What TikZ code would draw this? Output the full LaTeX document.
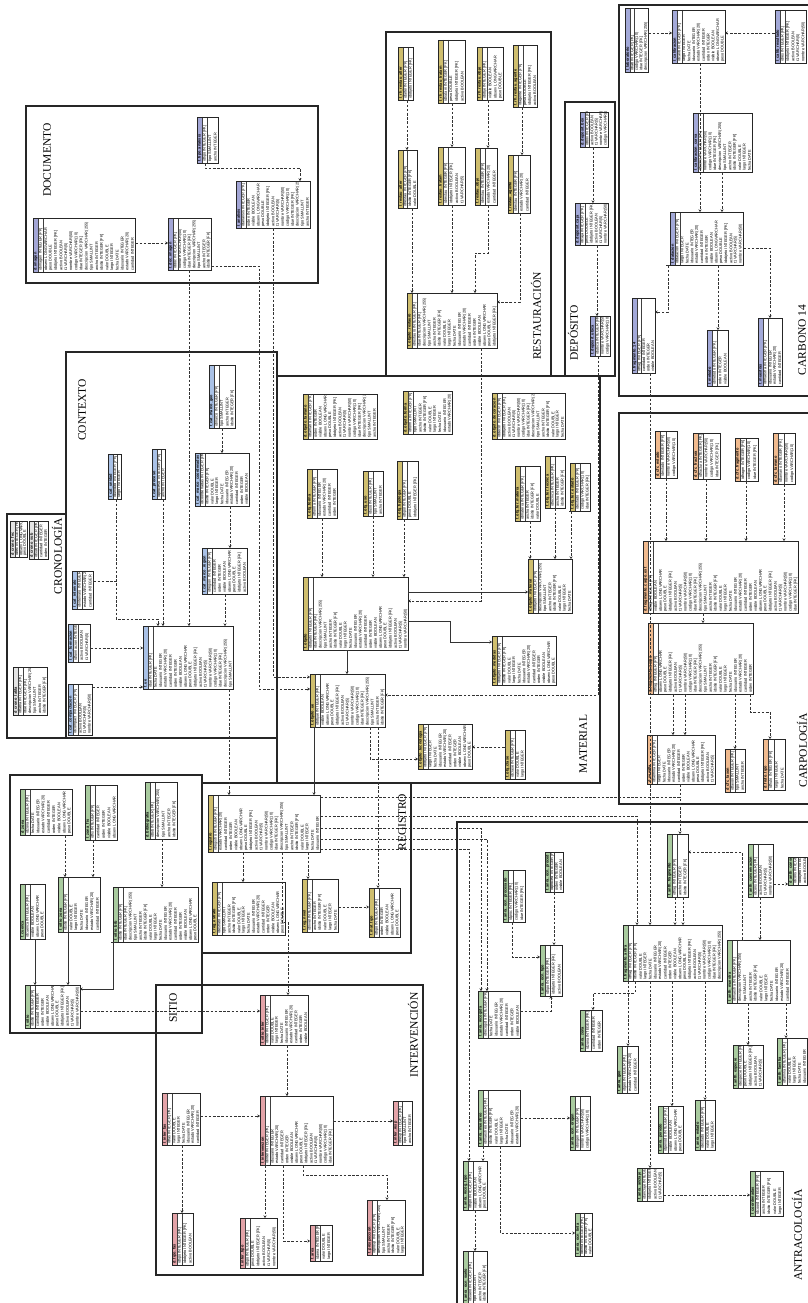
\documentclass[tikz,border=0pt]{standalone}
\usepackage{fontspec}
\setmainfont{Liberation Serif}
\setsansfont{Liberation Sans}
\usetikzlibrary{arrows.meta}
\definecolor{cdoc}{HTML}{A3A6D6}
\definecolor{ccon}{HTML}{A9C1E6}
\definecolor{ccro}{HTML}{E4E4E4}
\definecolor{cmat}{HTML}{CFBE6E}
\definecolor{csit}{HTML}{A9CB9F}
\definecolor{cint}{HTML}{E3A3A8}
\definecolor{ccar}{HTML}{F0BA8E}
\definecolor{cc14}{HTML}{A3A9D8}
\newcommand\ttf{\sffamily\fontsize{3.9}{4.5}\selectfont}
\newcommand\poolrow[1]{\ifcase#1 nombre VARCHAR(50)\or descripcion VARCHAR(255)\or idsitio INTEGER [FK]\or fecha DATE\or cantidad INTEGER\or observ LONGVARCHAR\or activo BOOLEAN\or codigo VARCHAR(10)\or tipo SMALLINT\or valor DOUBLE\or idusuario INTEGER\or orden INTEGER\or peso DOUBLE\or t1 VARCHAR(5)\or idue INTEGER [FK]\or ancho INTEGER\or largo INTEGER\or estado VARCHAR(20)\or visible BOOLEAN\else idobjeto INTEGER [FK]\fi}
\tikzset{
 tbox/.style={fill=white, inner sep=0pt, outer sep=0pt, anchor=north west},
 ttxt/.style={rotate=90, anchor=west, inner sep=0pt, font=\ttf},
 tsep/.style={draw=black!75, line width=0.35pt},
 tborder/.style={draw=black!85, line width=0.5pt},
 grp/.style={draw=black!85, line width=1.1pt},
 ttl/.style={rotate=90, font=\fontsize{11.5}{13}\selectfont, inner sep=0pt},
 rel/.style={draw=black!80, line width=0.5pt, dash pattern=on 2.6pt off 1.6pt, {Bar[width=3.2pt]}-{Stealth[length=2.6pt,width=3.2pt]}},
 relS/.style={draw=black!80, line width=0.5pt, {Bar[width=3.2pt]}-{Stealth[length=2.6pt,width=3.2pt]}},
 relJ/.style={draw=black!80, line width=0.5pt, dash pattern=on 2.6pt off 1.6pt, {Bar[width=3.2pt]}-},
}
\newcommand{\tb}[9]{%
 \pgfmathsetmacro\tbp{(#4-#2-5)/#7}%
 \node[tbox, minimum width={(#4-#2)*1pt}, minimum height={(#5-#3)*1pt}] (#1) at (#2,#3) {};%
 \begin{scope}%
  \clip (#2,#3) rectangle (#4,#5);%
  \fill[#6] (#2,#3) rectangle (#2+5,#5);%
  \node[ttxt, font=\ttf\bfseries] at (#2+2.6,#5-1) {#8};%
  \node[ttxt] at (#2+5+0.5*\tbp,#5-1) {#9};%
  \foreach \i in {2,...,#7}{%
   \pgfmathtruncatemacro\tbk{mod(\i*7+#2+#3,20)}%
   \node[ttxt] at (#2+5+\i*\tbp-0.5*\tbp,#5-1) {\poolrow{\tbk}};}%
 \end{scope}%
 \draw[tsep] (#2+5,#3) -- (#2+5,#5);%
 \draw[tsep] (#2+5+\tbp,#3) -- (#2+5+\tbp,#5);%
 \draw[tborder] (#2,#3) rectangle (#4,#5);%
}
\begin{document}
\begin{tikzpicture}[x=1pt,y=-1pt]
\useasboundingbox[fill=white] (0,0) rectangle (808,1303);
% ---------- group frames
\draw[grp] (26,106) rectangle (318,283);
\draw[grp] (386,32) rectangle (551,376);
\draw[grp] (565,102) rectangle (615,376);
\draw[grp] (619,5) rectangle (815,396);
\draw[grp] (619,413) rectangle (815,804);
\draw[grp] (66,352) rectangle (277,738);
\draw[grp] (7,514) rectangle (66,738);
\draw[grp] (277,376) rectangle (600,783);
\draw[grp] (202,783) rectangle (411,953);
\draw[grp] (10,775) rectangle (202,1033);
\draw[grp] (156,985) rectangle (423,1275);
\draw[grp] (457,822) rectangle (815,1310);
% ---------- tables
% DOCUMENTO
\tb{dimg}{33}{218}{135}{272}{cdoc}{19}{d\_imagen}{idimagen INTEGER [PK]}
\tb{ddoc}{168}{218}{211}{270}{cdoc}{8}{t\_doc\_imagen}{iddoc INTEGER [PK]}
\tb{dtip}{197}{117}{218}{163}{cdoc}{3}{t\_tipo\_analisis}{idtipo INTEGER [PK]}
\tb{dana}{236}{181}{310}{228}{cdoc}{14}{t\_analisis}{idanalisis INTEGER [PK]}
% CONTEXTO
\tb{cx1}{72}{571}{93}{609}{ccon}{3}{t\_cat\_intervalo}{idintervalo INTEGER [PK]}
\tb{cx2}{108}{454}{121}{499}{ccon}{2}{t\_cat\_unidad}{idunidad INTEGER [PK]}
\tb{cx3}{152}{449}{165}{499}{ccon}{2}{t\_cat\_proceso}{idproceso INTEGER [PK]}
\tb{cx4}{209}{365}{235}{428}{ccon}{4}{t\_cat\_marco\_geo}{idmarco INTEGER [PK]}
\tb{cx5}{195}{453}{249}{506}{ccon}{10}{t\_cat\_marco\_coordenadas}{idcoordenadas INTEGER [PK]}
\tb{cx6}{202}{548}{247}{594}{ccon}{8}{t\_cat\_marco\_region}{idregion INTEGER [PK]}
\tb{cx7}{68}{624}{90}{662}{ccon}{3}{t\_cat\_formacion}{idformacion INTEGER [PK]}
\tb{cx8}{68}{684}{92}{735}{ccon}{4}{t\_cat\_compactacion}{idcompact INTEGER [PK]}
\tb{tue}{143}{626}{233}{689}{ccon}{17}{t\_ue}{idue INTEGER [PK]}
% CRONOLOGIA
\tb{cr1}{10}{521}{27}{557}{ccro}{3}{d\_crono\_fec}{idfec INTEGER [PK]}
\tb{cr2}{29}{521}{48}{559}{ccro}{3}{d\_crono\_sub}{idsub INTEGER [PK]}
\tb{cr3}{13}{667}{47}{715}{ccro}{6}{d\_crono\_tabla}{idtabla INTEGER [PK]}
% RESTAURACION
\tb{r1}{398}{47}{413}{100}{cmat}{2}{t\_rh\_restau\_alter}{idalter INTEGER [PK]}
\tb{r2}{438}{40}{465}{103}{cmat}{4}{t\_rh\_restau\_tratam}{idtratam INTEGER [PK]}
\tb{r3}{477}{47}{503}{100}{cmat}{4}{t\_rh\_restau\_obje}{idobje INTEGER [PK]}
\tb{r4}{513}{45}{537}{107}{cmat}{4}{t\_rh\_restau\_agente}{idagente INTEGER [PK]}
\tb{r5}{398}{150}{417}{208}{cmat}{3}{t\_restau\_alter}{idrestau INTEGER [PK]}
\tb{r6}{438}{147}{465}{205}{cmat}{4}{t\_restau\_tratam}{idrestau INTEGER [PK]}
\tb{r7}{475}{148}{497}{205}{cmat}{3}{t\_restau\_obje}{idrestau INTEGER [PK]}
\tb{r8}{508}{155}{530}{213}{cmat}{3}{t\_restau\_agente}{idrestau INTEGER [PK]}
\tb{rmain}{407}{293}{497}{348}{cmat}{17}{t\_objeto\_restauro}{idrestauro INTEGER [PK]}
% DEPOSITO
\tb{d1}{580}{112}{608}{147}{cc14}{5}{d\_deposit\_box}{idbox INTEGER [PK]}
\tb{d2}{575}{203}{608}{245}{cc14}{6}{d\_deposit\_caja}{idcaja INTEGER [PK]}
\tb{d3}{590}{316}{610}{356}{cc14}{3}{t\_deposit\_ubica}{idubica INTEGER [PK]}
% CARBONO 14
\tb{ca}{625}{8}{648}{72}{cc14}{4}{t\_laboratorio}{idlab INTEGER [PK]}
\tb{cb}{672}{10}{725}{63}{cc14}{10}{t\_calibracion}{idcalib INTEGER [PK]}
\tb{cc}{775}{10}{806}{63}{cc14}{5}{t\_calib\_resultado}{idres INTEGER [PK]}
\tb{cd}{693}{113}{752}{172}{cc14}{11}{t\_calibracion\_curva}{idcurva INTEGER [PK]}
\tb{ce}{670}{212}{743}{265}{cc14}{14}{t\_datacion}{iddatacion INTEGER [PK]}
\tb{cf}{632}{298}{655}{373}{cc14}{4}{t\_fragmento\_14}{idfrag INTEGER [PK]}
\tb{cg}{707}{330}{728}{386}{cc14}{3}{t\_metodo}{idmetodo INTEGER [PK]}
\tb{ch}{758}{318}{782}{386}{cc14}{4}{t\_muestras}{idmuestra INTEGER [PK]}
% CARPOLOGIA
\tb{cp1}{655}{431}{677}{478}{ccar}{3}{d\_cfc\_estado}{idestado INTEGER [PK]}
\tb{cp2}{693}{433}{720}{479}{ccar}{4}{d\_cfc\_fractura}{idfractura INTEGER [PK]}
\tb{cp3}{735}{438}{758}{481}{ccar}{3}{d\_cfc\_fragmento}{idfragm INTEGER [PK]}
\tb{cp4}{773}{433}{795}{484}{ccar}{3}{d\_cfc\_tamano}{idtamano INTEGER [PK]}
\tb{cpm}{643}{541}{798}{613}{ccar}{30}{d\_fragmento\_carpo\_ext}{idfrag INTEGER [PK]}
\tb{cp6}{648}{623}{753}{694}{ccar}{20}{d\_fragmento\_carpo}{idfrag INTEGER [PK]}
\tb{cp7}{647}{735}{715}{784}{ccar}{13}{d\_semilla}{idsemilla INTEGER [PK]}
\tb{cp8}{725}{749}{745}{792}{ccar}{3}{d\_cfc\_taxon}{idtaxon INTEGER [PK]}
\tb{cp9}{763}{739}{785}{790}{ccar}{3}{d\_fruto\_tipo}{idfruto INTEGER [PK]}
% MATERIAL
\tb{mobj}{303}{577}{408}{650}{cmat}{20}{t\_objeto}{idobjeto INTEGER [PK]}
\tb{mlow}{310}{674}{385}{727}{cmat}{14}{t\_objeto\_ue}{idobjue INTEGER [PK]}
\tb{m1}{303}{394}{377}{439}{cmat}{14}{d\_objeto\_tamano}{idtamano INTEGER [PK]}
\tb{m2}{403}{391}{452}{434}{cmat}{9}{d\_objeto\_forma}{idforma INTEGER [PK]}
\tb{m3}{492}{393}{565}{439}{cmat}{14}{d\_objeto\_decoracion}{iddecor INTEGER [PK]}
\tb{m4}{307}{469}{337}{518}{cmat}{5}{t\_obj\_forma}{idforma INTEGER [PK]}
\tb{m5}{363}{471}{383}{516}{cmat}{3}{t\_obj\_uso}{iduso INTEGER [PK]}
\tb{m6}{397}{461}{418}{519}{cmat}{3}{t\_obj\_tipologia}{idtipol INTEGER [PK]}
\tb{m7}{515}{466}{540}{521}{cmat}{4}{t\_obj\_ter\_materia}{idmateria INTEGER [PK]}
\tb{m8}{545}{456}{565}{508}{cmat}{3}{t\_obj\_ter\_tecnica}{idtecnica INTEGER [PK]}
\tb{m9}{570}{463}{590}{511}{cmat}{3}{t\_obj\_ter\_estado}{idestado INTEGER [PK]}
\tb{m10}{528}{559}{572}{613}{cmat}{8}{t\_objeto\_material}{idobjeto INTEGER [PK]}
\tb{m11}{492}{636}{556}{685}{cmat}{12}{t\_objeto\_medidas}{idobjeto INTEGER [PK]}
\tb{m12}{418}{724}{472}{769}{cmat}{10}{t\_objeto\_tecnologia}{idobjeto INTEGER [PK]}
\tb{m13}{505}{730}{525}{779}{cmat}{3}{t\_obj\_clase}{idclase INTEGER [PK]}
% REGISTRO
\tb{rg}{208}{795}{320}{852}{cmat}{21}{t\_registro}{idregistro INTEGER [PK]}
\tb{rg2}{212}{882}{285}{935}{cmat}{14}{t\_reg\_estrato}{idestrato INTEGER [PK]}
\tb{rg3}{302}{879}{338}{932}{cmat}{6}{t\_reg\_nivel}{idnivel INTEGER [PK]}
\tb{rg4}{369}{888}{400}{937}{cmat}{5}{t\_mat\_tipo}{idtipo INTEGER [PK]}
% SITIO
\tb{s1}{20}{789}{72}{835}{csit}{9}{d\_zona}{idzona INTEGER [PK]}
\tb{s2}{85}{785}{117}{840}{csit}{5}{t\_zona\_fis}{idfis INTEGER [PK]}
\tb{s3}{145}{782}{177}{839}{csit}{5}{d\_bibliografia}{idbib INTEGER [PK]}
\tb{s4}{20}{884}{45}{939}{csit}{4}{t\_cuenca}{idcuenca INTEGER [PK]}
\tb{s5}{58}{877}{100}{932}{csit}{7}{t\_sitio\_zona}{idsitio INTEGER [PK]}
\tb{s6}{113}{887}{198}{942}{csit}{16}{t\_sitio\_bib}{idsitio INTEGER [PK]}
\tb{smain}{25}{985}{80}{1028}{csit}{10}{t\_sitio}{idsitio INTEGER [PK]}
% INTERVENCION
\tb{i1}{260}{995}{308}{1045}{cint}{9}{t\_sitio\_inter}{idinter INTEGER [PK]}
\tb{ia}{162}{1093}{200}{1145}{cint}{7}{t\_inter\_fas}{idfas INTEGER [PK]}
\tb{imain}{260}{1096}{333}{1165}{cint}{14}{t\_intervencion}{idinter INTEGER [PK]}
\tb{ib}{172}{1213}{193}{1265}{cint}{3}{d\_tipo\_fas}{idtipo INTEGER [PK]}
\tb{idt}{240}{1218}{277}{1268}{cint}{6}{t\_inter\_tipo}{idtipo INTEGER [PK]}
\tb{ie}{310}{1225}{332}{1261}{cint}{3}{t\_area}{idarea INTEGER [PK]}
\tb{iff}{367}{1200}{405}{1255}{cint}{7}{t\_prospeccion}{idprosp INTEGER [PK]}
\tb{ig}{393}{1101}{412}{1145}{cint}{3}{t\_inter\_resp}{idresp INTEGER [PK]}
% ANTRACOLOGIA
\tb{a1}{503}{870}{525}{922}{csit}{3}{t\_anra\_ocn\_procesado}{idproc INTEGER [PK]}
\tb{a2}{545}{852}{563}{892}{csit}{3}{t\_anra\_ocn\_proced}{idproced INTEGER [PK]}
\tb{a3}{667}{834}{688}{897}{csit}{3}{t\_anth\_fragmento}{idfrag INTEGER [PK]}
\tb{a4}{748}{844}{773}{897}{csit}{4}{t\_anth\_conservacion}{idcons INTEGER [PK]}
\tb{a5}{788}{857}{807}{885}{csit}{3}{d\_anth\_conserv}{idcons INTEGER [PK]}
\tb{amain}{623}{925}{722}{981}{csit}{19}{t\_fragmento\_antra}{idfrag INTEGER [PK]}
\tb{a6}{727}{940}{790}{1003}{csit}{11}{t\_anth\_muestra}{idmuestra INTEGER [PK]}
\tb{a7}{540}{945}{562}{996}{csit}{3}{t\_anra\_ocn\_tipo}{idtipo INTEGER [PK]}
\tb{a8}{580}{1010}{602}{1051}{csit}{3}{t\_anra\_zona}{idzona INTEGER [PK]}
\tb{a9}{617}{1046}{638}{1093}{csit}{3}{t\_anra\_geo}{idgeo INTEGER [PK]}
\tb{a10}{570}{1096}{590}{1150}{csit}{3}{t\_anra\_ocn\_origen}{idorigen INTEGER [PK]}
\tb{a11}{637}{1168}{663}{1201}{csit}{4}{t\_anra\_anclaje}{idanclaje INTEGER [PK]}
\tb{a12}{658}{1106}{683}{1153}{csit}{4}{t\_anra\_periodo}{idperiodo INTEGER [PK]}
\tb{a13}{695}{1100}{715}{1150}{csit}{3}{t\_anra\_estado}{idestado INTEGER [PK]}
\tb{a14}{575}{1213}{592}{1256}{csit}{3}{t\_anra\_ocn\_tinta}{idtinta INTEGER [PK]}
\tb{a15}{750}{1171}{783}{1216}{csit}{5}{t\_coordenadas}{idcoord INTEGER [PK]}
\tb{a16}{733}{1045}{763}{1088}{csit}{5}{t\_anth\_especie}{idespecie INTEGER [PK]}
\tb{a17}{777}{1038}{807}{1085}{csit}{5}{t\_anth\_familia}{idfamilia INTEGER [PK]}
\tb{a18}{478}{1090}{520}{1146}{csit}{7}{t\_anra\_muestreo}{idmuestreo INTEGER [PK]}
\tb{a19}{478}{991}{520}{1038}{csit}{7}{t\_anra\_recogida}{idrecogida INTEGER [PK]}
\tb{a20}{463}{1161}{487}{1210}{csit}{4}{t\_anra\_recog\_tipo}{idtipo INTEGER [PK]}
\tb{a21}{463}{1251}{487}{1303}{csit}{4}{t\_anra\_ocn\_suelo}{idsuelo INTEGER [PK]}
% ---------- connectors
% DOCUMENTO
\draw[rel] (dimg.east|-0,243) -- (ddoc.west|-0,243);
\draw[rel] (dtip.south-|205,0) -- (205,168) -- (300,168) -- (dana.north-|300,0);
\draw[rel] (ddoc.south-|189,0) -- (tue.north-|189,0);
\draw[rel] (ddoc.east|-0,266) -- (259,266) -- (259,689) -- (mlow.west|-0,689);
\draw[rel] (dana.south-|273,0) -- (273,677) -- (mlow.west|-0,677);
% CONTEXTO
\draw[rel] (cx4.south-|222,0) -- (cx5.north-|222,0);
\draw[rel] (cx5.south-|230,0) -- (cx6.north-|230,0);
\draw[rel] (cx6.south-|225,0) -- (tue.north-|225,0);
\draw[rel] (cx2.south-|116,0) -- (116,619) -- (158,619) -- (tue.north-|158,0);
\draw[rel] (cx3.south-|163,0) -- (tue.north-|163,0);
\draw[relJ] (cx1.east|-0,581) -- (116,581);
\draw[rel] (cx7.east|-0,648) -- (tue.west|-0,648);
\draw[rel] (cx8.east|-0,687) -- (tue.west|-0,687);
\draw[rel] (tue.south-|229,0) -- (rg.north-|229,0);
% RESTAURACION
\draw[rel] (r1.south-|407,0) -- (r5.north-|407,0);
\draw[rel] (r2.south-|452,0) -- (r6.north-|452,0);
\draw[rel] (r3.south-|488,0) -- (r7.north-|488,0);
\draw[rel] (r4.south-|522,0) -- (r8.north-|522,0);
\draw[rel] (r5.south-|412,0) -- (rmain.north-|412,0);
\draw[rel] (r6.south-|452,0) -- (rmain.north-|452,0);
\draw[rel] (r7.south-|488,0) -- (488,253) -- (475,253) -- (rmain.north-|475,0);
\draw[rel] (r8.south-|520,0) -- (520,302) -- (rmain.east|-0,302);
\draw[rel] (rmain.south-|481,0) -- (481,601) -- (mobj.east|-0,601);
% DEPOSITO
\draw[rel] (d1.south-|593,0) -- (d2.north-|593,0);
\draw[rel] (d2.south-|597,0) -- (d3.north-|597,0);
\draw[rel] (d3.south-|598,0) -- (598,695) -- (mlow.east|-0,695);
% CARBONO 14
\draw[rel] (ca.east|-0,33) -- (cb.west|-0,33);
\draw[rel] (cc.west|-0,33) -- (cb.east|-0,33);
\draw[rel] (cb.south-|700,0) -- (ce.north-|700,0);
\draw[rel] (cd.south-|722,0) -- (ce.north-|722,0);
\draw[rel] (ce.south-|668,0) -- (668,312) -- (cf.east|-0,312);
\draw[rel] (ce.south-|718,0) -- (cg.north-|718,0);
\draw[rel] (ce.east|-0,248) -- (770,248) -- (ch.north-|770,0);
\draw[rel] (cf.south-|650,0) -- (amain.north-|650,0);
% CARPOLOGIA
\draw[rel] (cp1.south-|666,0) -- (cpm.north-|666,0);
\draw[rel] (cp2.south-|706,0) -- (cpm.north-|706,0);
\draw[rel] (cp3.south-|746,0) -- (cpm.north-|746,0);
\draw[rel] (cp4.south-|784,0) -- (cpm.north-|784,0);
\draw[rel] (cpm.south-|703,0) -- (cp6.north-|703,0);
\draw[rel] (cp6.south-|673,0) -- (cp7.north-|673,0);
\draw[rel] (cp6.south-|685,0) -- (cp7.north-|685,0);
\draw[rel] (cp6.south-|735,0) -- (cp8.north-|735,0);
\draw[rel] (cp6.south-|750,0) -- (750,712) -- (770,712) -- (cp9.north-|770,0);
% MATERIAL
\draw[rel] (m4.south-|322,0) -- (mobj.north-|322,0);
\draw[rel] (m5.south-|373,0) -- (mobj.north-|373,0);
\draw[rel] (m6.south-|404,0) -- (mobj.north-|404,0);
\draw[rel] (m7.south-|530,0) -- (m10.north-|530,0);
\draw[rel] (m8.south-|555,0) -- (m10.north-|555,0);
\draw[rel] (m9.south-|571,0) -- (m10.north-|571,0);
\draw[relS] (mobj.east|-0,592) -- (m10.west|-0,592);
\draw[relS] (mobj.east|-0,621) -- (450,621) -- (450,642) -- (m11.west|-0,642);
\draw[relS] (mobj.south-|347,0) -- (mlow.north-|347,0);
\draw[rel] (mlow.south-|370,0) -- (370,759) -- (m12.west|-0,759);
\draw[rel] (m13.west|-0,747) -- (m12.east|-0,747);
\draw[rel] (mlow.south-|378,0) -- (rg4.north-|378,0);
\draw[relS] (mlow.south-|314,0) -- (rg.north-|314,0);
% REGISTRO
\draw[rel] (rg.south-|243,0) -- (rg2.north-|243,0);
\draw[rel] (rg.south-|308,0) -- (rg3.north-|308,0);
\draw[rel] (rg3.east|-0,907) -- (rg4.west|-0,907);
\draw[rel] (rg.south-|282,0) -- (282,922) -- (288,922) -- (i1.north-|288,0);
\draw[rel] (rg.east|-0,797) -- (680,797) -- (a3.north-|680,0);
\draw[relJ] (cp7.south-|680,0) -- (680,797);
\draw[rel] (rg.east|-0,816) -- (637,816) -- (amain.north-|637,0);
\draw[rel] (rg.east|-0,828) -- (481,828) -- (a19.north-|481,0);
\draw[rel] (rg.east|-0,839) -- (487,839) -- (a19.north-|487,0);
\draw[rel] (rg.east|-0,849) -- (469,849) -- (a20.north-|469,0);
% SITIO
\draw[rel] (s1.south-|65,0) -- (s5.north-|65,0);
\draw[rel] (s2.south-|93,0) -- (s5.north-|93,0);
\draw[rel] (s3.south-|162,0) -- (s6.north-|162,0);
\draw[relS] (s4.south-|35,0) -- (smain.north-|35,0);
\draw[relS] (s5.south-|68,0) -- (smain.north-|68,0);
\draw[relS] (s6.south-|113,0) -- (113,989) -- (smain.east|-0,989);
\draw[rel] (smain.east|-0,1011) -- (i1.west|-0,1011);
% INTERVENCION
\draw[rel] (i1.south-|287,0) -- (imain.north-|287,0);
\draw[rel] (ia.east|-0,1116) -- (imain.west|-0,1116);
\draw[rel] (ia.south-|182,0) -- (ib.north-|182,0);
\draw[rel] (imain.south-|265,0) -- (idt.north-|265,0);
\draw[rel] (imain.east|-0,1121) -- (ig.west|-0,1121);
\draw[rel] (imain.south-|303,0) -- (303,1175) -- (387,1175) -- (iff.north-|387,0);
\draw[rel] (imain.south-|283,0) -- (283,1241) -- (ie.west|-0,1241);
% ANTRACOLOGIA
\draw[rel] (a3.south-|675,0) -- (amain.north-|675,0);
\draw[rel] (a3.south-|683,0) -- (amain.north-|683,0);
\draw[rel] (a6.north-|742,0) -- (742,852) -- (a3.east|-0,852);
\draw[rel] (a4.east|-0,884) -- (a5.west|-0,884);
\draw[rel] (a4.south-|760,0) -- (a6.north-|760,0);
\draw[rel] (amain.south-|628,0) -- (a9.north-|628,0);
\draw[rel] (amain.south-|635,0) -- (635,993) -- (593,993) -- (a8.north-|593,0);
\draw[rel] (amain.south-|650,0) -- (a11.north-|650,0);
\draw[rel] (amain.south-|672,0) -- (a12.north-|672,0);
\draw[rel] (amain.south-|705,0) -- (a13.north-|705,0);
\draw[rel] (a6.south-|748,0) -- (a16.north-|748,0);
\draw[rel] (a6.south-|786,0) -- (a17.north-|786,0);
\draw[rel] (a11.east|-0,1195) -- (a15.west|-0,1195);
\draw[rel] (a19.east|-0,1011) -- (551,1011) -- (a7.south-|551,0);
\draw[rel] (a18.east|-0,1118) -- (a10.west|-0,1118);
\draw[rel] (a18.south-|500,0) -- (500,1233) -- (a14.west|-0,1233);
\draw[rel] (a18.south-|483,0) -- (a20.north-|483,0);
\draw[rel] (a20.south-|475,0) -- (a21.north-|475,0);
\draw[rel] (a1.south-|512,0) -- (512,957) -- (a7.west|-0,957);
\draw[rel] (a2.south-|554,0) -- (a7.north-|554,0);
% ---------- group titles
\node[ttl] (tDoc) at (47,160) {DOCUMENTO};
\node[ttl] (tCon) at (82,410) {CONTEXTO};
\node[ttl] (tCro) at (57,556) {CRONOLOGÍA};
\node[ttl] (tRes) at (536,316) {RESTAURACIÓN};
\node[ttl] (tDep) at (573,333) {DEPÓSITO};
\node[ttl] (tMat) at (583,744) {MATERIAL};
\node[ttl] (tC14) at (802,340) {CARBONO 14};
\node[ttl] (tCar) at (802,750) {CARPOLOGÍA};
\node[ttl] (tReg) at (402,822) {REGISTRO};
\node[ttl] (tSit) at (173,1008) {SITIO};
\node[ttl] (tInt) at (413,1035) {INTERVENCIÓN};
\node[ttl] (tAnt) at (797,1235) {ANTRACOLOGÍA};
\end{tikzpicture}
\end{document}
